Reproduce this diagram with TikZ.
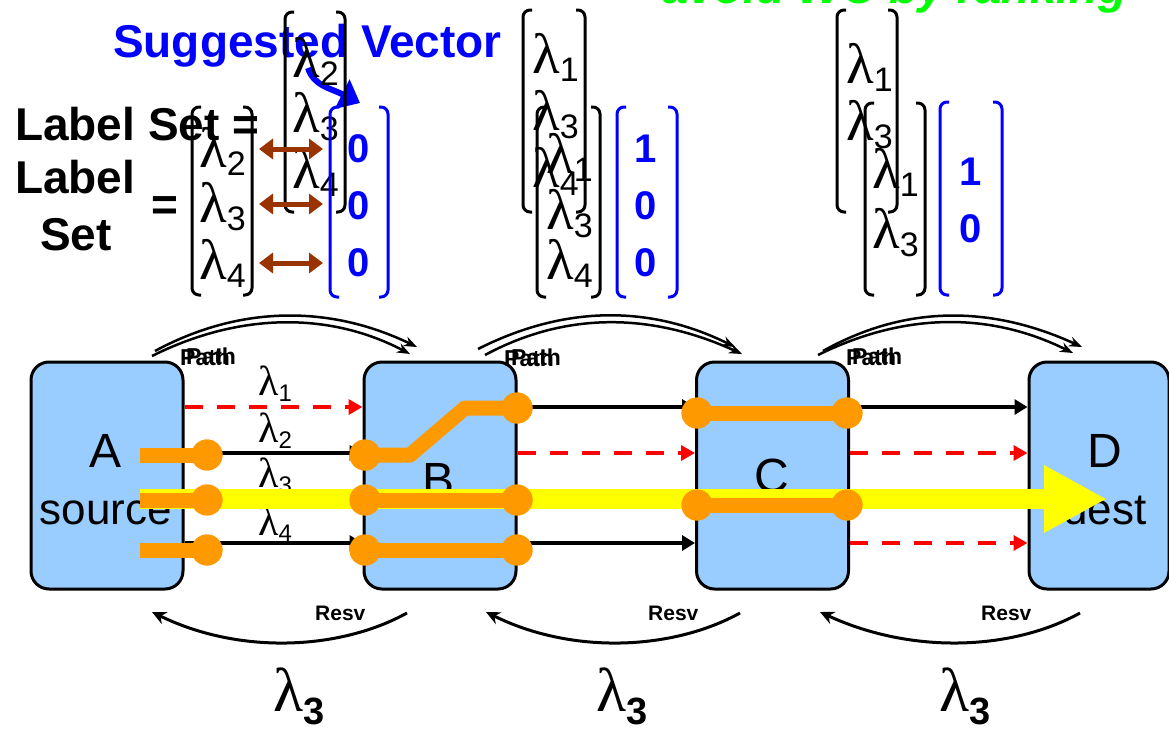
\documentclass[tikz,border=0pt]{standalone}
\usepackage{fontspec}
\setmainfont{Liberation Sans}
\newfontfamily\grk{Liberation Serif}
\usetikzlibrary{arrows.meta,calc}
\definecolor{boxblue}{HTML}{99CCFF}
\definecolor{orng}{HTML}{FF9900}
\definecolor{ylw}{HTML}{FFFF00}
\definecolor{brn}{HTML}{993300}
\definecolor{blu}{HTML}{0000FF}
\definecolor{grn}{HTML}{00FF00}
\newcommand\fs[1]{\fontsize{#1}{#1}\selectfont}
\newcommand\lv[1]{{\grk\fs{57}λ}\raisebox{-8pt}{\fs{34}#1}}
\newcommand\lnet[1]{{\grk\fs{42}λ}\raisebox{-6pt}{\fs{24}#1}}
\newcommand\lbot{{\grk\fs{62}λ}\raisebox{-13pt}{\fs{38}\bfseries 3}}
\newcommand\vbrack[5]{%
  \draw[draw=#5, line width=3pt, rounded corners=7pt] (#1+9,#3) -- (#1,#3) -- (#1,#4) -- (#1+9,#4);
  \draw[draw=#5, line width=3pt, rounded corners=7pt] (#2-9,#3) -- (#2,#3) -- (#2,#4) -- (#2-9,#4);}
\begin{document}
\begin{tikzpicture}[x=1pt,y=-1pt,
  box/.style={draw=black, line width=3pt, fill=boxblue, rounded corners=18pt, minimum width=152pt, minimum height=227pt, inner sep=0pt},
  boxtxt/.style={anchor=base, inner sep=0pt, font=\fs{48}},
  subtxt/.style={anchor=base, inner sep=0pt, font=\fs{44}},
  blk/.style={draw=black, line width=3.5pt, -{Triangle[length=13pt,width=15pt]}},
  dashred/.style={draw=red, line width=4pt, dash pattern=on 18pt off 14pt, -{Triangle[length=14pt,width=15pt]}},
  opath/.style={draw=orng, line width=15pt},
  dot/.style={circle, fill=orng, minimum size=31pt, inner sep=0pt},
  vent/.style={anchor=base west, inner sep=0pt},
  bdig/.style={inner sep=0pt, font=\fs{40}\bfseries, text=blu},
  pathlbl/.style={anchor=base west, inner sep=0pt, font=\fs{23}\bfseries},
  resvlbl/.style={anchor=base west, inner sep=0pt, font=\fs{21}\bfseries},
  parc/.style={draw=black, line width=2.5pt, -{Stealth[length=13pt,width=10pt]}},
  rarc/.style={draw=black, line width=3pt, -{Stealth[length=14pt,width=13pt]}},
  biarr/.style={draw=brn, line width=5pt, {Triangle[length=14pt,width=20pt]}-{Triangle[length=14pt,width=20pt]}},
  bigtxt/.style={anchor=base west, inner sep=0pt, font=\fs{46}\bfseries}]
\useasboundingbox (0,0) rectangle (1169,728);
\clip (0,0) rectangle (1169,728);

% green title (cut off)
\node[anchor=base west, inner sep=0pt, font=\fs{47}\bfseries\itshape, text=grn] (ttl) at (662,4) {avoid WC by ranking};

% Suggested vector
\node[bigtxt, text=blu] (sv) at (113,57) {Suggested Vector};
\coordinate (sa) at (308,68);
\coordinate (se) at (360,103);
\draw[draw=blu, line width=6pt, -{Triangle[length=20pt,width=32pt]}] (sa) .. controls (314,86) and (330,88) .. (se);

% Label set texts
\node[bigtxt] (ls1) at (15,140) {Label Set =};
\node[bigtxt] (ls2) at (15,193) {Label};
\node[bigtxt] (ls3) at (40,250) {Set};
\node[inner sep=0pt, font=\fs{46}\bfseries] (eq) at (165,209) {=};

% vector 1
\vbrack{192}{252}{107}{295}{black}
\node[vent] (v1a) at (199,167) {\lv{2}};
\node[vent] (v1b) at (199,222) {\lv{3}};
\node[vent] (v1c) at (199,279) {\lv{4}};
\vbrack{285}{345}{12}{212}{black}
\node[vent] (w1a) at (292,77) {\lv{2}};
\node[vent] (w1b) at (292,132) {\lv{3}};
\node[vent] (w1c) at (292,188) {\lv{4}};
\vbrack{330}{388}{107}{297}{blu}
\node[bdig] (z1a) at (359,149) {0};
\node[bdig] (z1b) at (359,206) {0};
\node[bdig] (z1c) at (359,263) {0};
\coordinate (ba1) at (259,149); \coordinate (bb1) at (323,149);
\coordinate (ba2) at (259,204); \coordinate (bb2) at (323,204);
\coordinate (ba3) at (259,263); \coordinate (bb3) at (323,263);
\draw[biarr] (ba1) -- (bb1);
\draw[biarr] (ba2) -- (bb2);
\draw[biarr] (ba3) -- (bb3);

% vector 2
\vbrack{523}{585}{10}{212}{black}
\node[vent] (w2a) at (532,73) {\lv{1}};
\node[vent] (w2b) at (532,130) {\lv{3}};
\node[vent] (w2c) at (532,187) {\lv{4}};
\vbrack{537}{600}{107}{297}{black}
\node[vent] (v2a) at (546,173) {\lv{1}};
\node[vent] (v2b) at (546,229) {\lv{3}};
\node[vent] (v2c) at (546,279) {\lv{4}};
\vbrack{617}{677}{107}{297}{blu}
\node[bdig] (z2a) at (646,149) {1};
\node[bdig] (z2b) at (646,206) {0};
\node[bdig] (z2c) at (646,263) {0};

% vector 3
\vbrack{837}{897}{10}{212}{black}
\node[vent] (w3a) at (846,83) {\lv{1}};
\node[vent] (w3b) at (846,140) {\lv{3}};
\vbrack{865}{925}{103}{295}{black}
\node[vent] (v3a) at (872,188) {\lv{1}};
\node[vent] (v3b) at (872,248) {\lv{3}};
\vbrack{940}{1002}{102}{295}{blu}
\node[bdig] (z3a) at (971,172) {1};
\node[bdig] (z3b) at (971,229) {0};

% boxes
\node[box] (A) at (107,475.5) {};
\node[box] (B) at (440,475.5) {};
\node[box] (C) at (772.5,475.5) {};
\node[box, minimum width=140pt] (D) at (1099,475.5) {};
\node[boxtxt] (At) at (106,467) {A};
\node[subtxt] (As) at (106,524) {source};
\node[boxtxt] (Bt) at (439,496) {B};
\node[boxtxt] (Ct) at (772,492) {C};
\node[boxtxt] (Dt) at (1105,467) {D};
\node[subtxt] (Ds) at (1105,524) {dest};

% row coordinates
\coordinate (y1) at (0,407);
\coordinate (y2) at (0,453);
\coordinate (y4) at (0,543);

% A -> B
\draw[dashred] (A.east |- y1) -- (B.west |- y1);
\draw[blk] (A.east |- y2) -- (B.west |- y2);
\draw[blk] (A.east |- y4) -- (B.west |- y4);
% B -> C
\draw[blk] (B.east |- y1) -- (C.west |- y1);
\draw[dashred] (B.east |- y2) -- (C.west |- y2);
\draw[blk] (B.east |- y4) -- (C.west |- y4);
% C -> D
\draw[blk] (C.east |- y1) -- (D.west |- y1);
\draw[dashred] (C.east |- y2) -- (D.west |- y2);
\draw[dashred] (C.east |- y4) -- (D.west |- y4);

% lambda labels
\node[vent] (l1) at (258,395) {\lnet{1}};
\node[vent] (l2) at (258,442) {\lnet{2}};
\node[vent] (l3) at (258,487) {\lnet{3}};
\node[vent] (l4) at (258,535) {\lnet{4}};

% yellow arrow
\coordinate (ys) at (140,499);
\coordinate (ye) at (1107,499);
\draw[draw=ylw, line width=20pt, -{Triangle[length=63pt,width=63pt]}] (ys) -- (ye);

% orange paths
\node[dot] (a2) at (207,455) {};
\node[dot] (a3) at (207,500) {};
\node[dot] (a4) at (207,550) {};
\node[dot] (b2) at (365,455) {};
\node[dot] (b3) at (365,500) {};
\node[dot] (b4) at (365,550) {};
\node[dot] (b1o) at (517,408) {};
\node[dot] (b3o) at (517,500) {};
\node[dot] (b4o) at (517,550) {};
\node[dot] (c1) at (697,413) {};
\node[dot] (c3) at (697,505) {};
\node[dot] (c1o) at (847,413) {};
\node[dot] (c3o) at (847,505) {};
\coordinate (s2) at (140,455);
\coordinate (s3) at (140,500);
\coordinate (s4) at (140,550);
\coordinate (k1) at (410,455);
\coordinate (k2) at (465,408);
\draw[opath] (s2) -- (a2.center);
\draw[opath] (s3) -- (a3.center);
\draw[opath] (s4) -- (a4.center);
\draw[opath, line join=round] (b2.center) -- (k1) -- (k2) -- (b1o.center);
\draw[opath] (b3.center) -- (b3o.center);
\draw[opath] (b4.center) -- (b4o.center);
\draw[opath] (c1.center) -- (c1o.center);
\draw[opath] (c3.center) -- (c3o.center);
\foreach \n in {a2,a3,a4,b2,b3,b4,b1o,b3o,b4o,c1,c3,c1o,c3o}
  \fill[orng] (\n) circle (15.5pt);

% Path arcs (doubled)
\coordinate (pa1) at (152,356); \coordinate (pb1) at (410,354);
\coordinate (pa2) at (155,351); \coordinate (pb2) at (417,347);
\draw[parc] (pa1) .. controls (240,312) and (330,312) .. (pb1);
\draw[parc] (pa2) .. controls (240,305) and (330,305) .. (pb2);
\node[pathlbl] (p1a) at (180,365) {Path};
\node[pathlbl] (p1b) at (186,364) {Path};
\coordinate (pa3) at (478,349); \coordinate (pb3) at (735,347);
\coordinate (pa4) at (485,355); \coordinate (pb4) at (742,354);
\draw[parc] (pa3) .. controls (565,305) and (650,305) .. (pb3);
\draw[parc] (pa4) .. controls (565,312) and (650,312) .. (pb4);
\node[pathlbl] (p2a) at (504,366) {Path};
\node[pathlbl] (p2b) at (511,365) {Path};
\coordinate (pa5) at (818,355); \coordinate (pb5) at (1073,353);
\coordinate (pa6) at (823,351); \coordinate (pb6) at (1082,347);
\draw[parc] (pa5) .. controls (905,312) and (990,312) .. (pb5);
\draw[parc] (pa6) .. controls (905,305) and (990,305) .. (pb6);
\node[pathlbl] (p3a) at (846,365) {Path};
\node[pathlbl] (p3b) at (852,364) {Path};

% Resv arcs
\coordinate (ra1) at (407,613); \coordinate (rb1) at (152,612);
\coordinate (ra2) at (740,613); \coordinate (rb2) at (486,612);
\coordinate (ra3) at (1080,613); \coordinate (rb3) at (820,612);
\draw[rarc] (ra1) .. controls (340,650) and (240,655) .. (rb1);
\draw[rarc] (ra2) .. controls (673,650) and (573,655) .. (rb2);
\draw[rarc] (ra3) .. controls (1013,650) and (913,655) .. (rb3);
\node[resvlbl] (r1) at (315,620) {Resv};
\node[resvlbl] (r2) at (648,620) {Resv};
\node[resvlbl] (r3) at (981,620) {Resv};

% bottom lambdas
\node[vent] (q1) at (273,711) {\lbot};
\node[vent] (q2) at (596,711) {\lbot};
\node[vent] (q3) at (939,711) {\lbot};
\end{tikzpicture}
\end{document}
